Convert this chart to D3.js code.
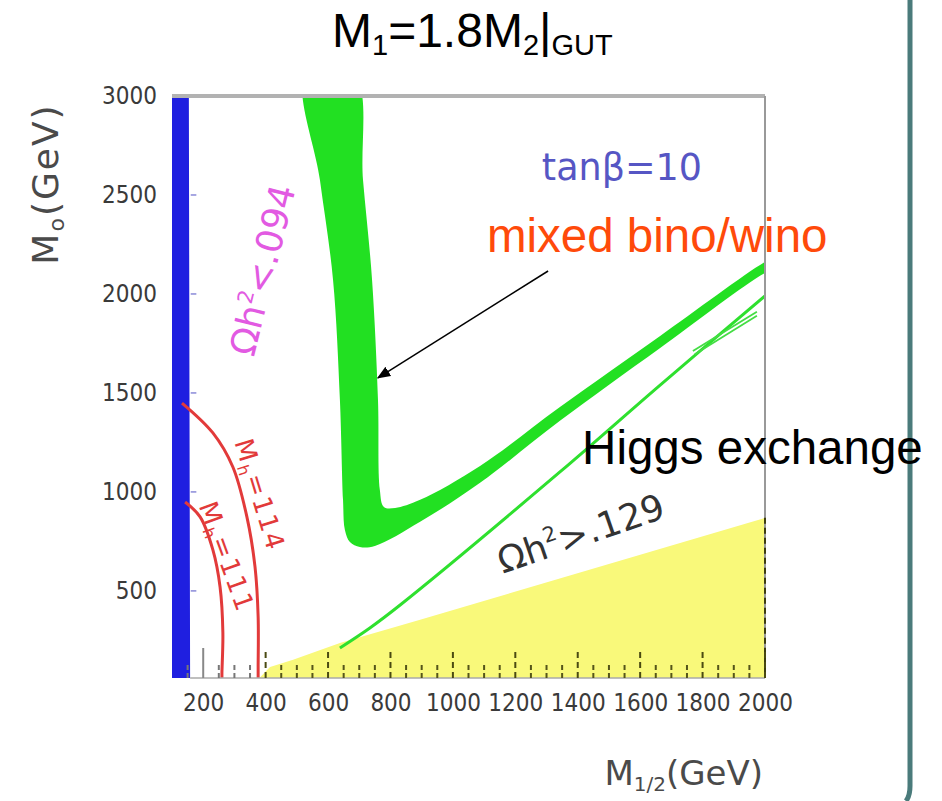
<!DOCTYPE html>
<html lang="en">
<head>
  <meta charset="UTF-8" />
  <title>M1=1.8M2 GUT</title>
  <script src="https://d3js.org/d3.v7.min.js"></script>
  <style>
    body { margin: 0; background: #fff; }
    svg { display: block; }
    .tick-lbl text { font-family: "DejaVu Sans Condensed", "DejaVu Sans", sans-serif; font-stretch: condensed; font-size: 24px; fill: #3a3a3a; }
    .note { font-family: "DejaVu Sans", sans-serif; }
    .big { font-family: "Liberation Sans", Arial, sans-serif; }
  </style>
</head>
<body>
  <div id="chart"></div>

  <script>
    // axis ticks
    const xTicks = [200, 400, 600, 800, 1000, 1200, 1400, 1600, 1800, 2000];
    const yTicks = [500, 1000, 1500, 2000, 2500, 3000];
    const xMinor = d3.range(150, 2000, 50).filter(v => v % 200 !== 0);

    // regions, [M1/2, M0] in GeV
    const blueBand = [[100, 3000], [154, 3000], [156, 1500], [158, 60], [100, 60]];
    const yellowRegion = [[380, 60], [414, 116], [488, 152], [638, 237], [895, 354], [2000, 869], [2000, 60]];
    const mixedBand = [
      [529, 3100], [574, 2576], [616, 2071], [638, 1464], [648, 959], [654, 808], [670, 747],
      [702, 722], [750, 727], [895, 849], [1087, 1046], [1343, 1359], [1664, 1727], [2000, 2106], [2040, 2130],
      [2040, 2190], [2000, 2162], [1664, 1788], [1343, 1429], [1087, 1131], [895, 960], [815, 919],
      [779, 924], [766, 1010], [760, 1464], [741, 2071], [712, 2576], [685, 3100]
    ];
    const higgsLine = [[638, 212], [734, 313], [831, 429], [1343, 1101], [1664, 1540], [2000, 1990]];
    const sliverA = [[1769, 1712], [1974, 1910]];
    const sliverB = [[1775, 1695], [1974, 1890]];
    const mh114 = [[132, 1449], [231, 1298], [295, 1126], [340, 874], [366, 621], [376, 369], [376, 116], [376, 60]];
    const mh111 = [[142, 949], [190, 874], [231, 707], [254, 520], [263, 288], [260, 86], [260, 60]];
    const arrowFrom = [1305, 2116], arrowTo = [760, 1576];

    const W = 942, H = 801;
    const svg = d3.select('#chart').append('svg').attr('width', W).attr('height', H);

    const x = d3.scaleLinear().domain([100, 2000]).range([172, 765]);
    const y = d3.scaleLinear().domain([60, 3000]).range([678, 96]);

    svg.append('defs').append('clipPath').attr('id', 'plot')
      .append('rect').attr('x', x(100)).attr('y', y(3000)).attr('width', x(2000) - x(100)).attr('height', y(60) - y(3000));
    svg.select('defs').append('marker')
      .attr('id', 'head').attr('viewBox', '0 0 10 10').attr('refX', 9).attr('refY', 5)
      .attr('markerWidth', 9).attr('markerHeight', 9).attr('orient', 'auto')
      .append('path').attr('d', 'M0,1 L10,5 L0,9 Z').attr('fill', '#000');

    const poly = d3.line().x(d => x(d[0])).y(d => y(d[1]));
    const smooth = d3.line().x(d => x(d[0])).y(d => y(d[1])).curve(d3.curveCatmullRom);

    const plot = svg.append('g').attr('clip-path', 'url(#plot)');

    plot.append('path').attr('d', poly(yellowRegion) + 'Z').attr('fill', '#f9f97a');
    plot.append('path').attr('d', poly(blueBand) + 'Z').attr('fill', '#1f1fe0');

    plot.append('path')
      .attr('d', d3.line().x(d => x(d[0])).y(d => y(d[1])).curve(d3.curveCatmullRomClosed)(mixedBand))
      .attr('fill', '#22e022');
    plot.append('path').attr('d', smooth(higgsLine)).attr('fill', 'none')
      .attr('stroke', '#2ee02e').attr('stroke-width', 3);
    [sliverA, sliverB].forEach(s => plot.append('path').attr('d', poly(s)).attr('fill', 'none')
      .attr('stroke', '#44dd44').attr('stroke-width', 1.8));

    [mh114, mh111].forEach(c => plot.append('path').attr('d', smooth(c)).attr('fill', 'none')
      .attr('stroke', '#e23a3a').attr('stroke-width', 3));

    // frame
    svg.append('line').attr('x1', x(100)).attr('x2', x(2000)).attr('y1', y(3000)).attr('y2', y(3000))
      .attr('stroke', '#b2b2b2').attr('stroke-width', 4);
    svg.append('line').attr('x1', x(2000)).attr('x2', x(2000)).attr('y1', y(3000)).attr('y2', y(60))
      .attr('stroke', '#999').attr('stroke-width', 2);
    svg.append('line').attr('x1', x(2000)).attr('x2', x(2000)).attr('y1', y(869)).attr('y2', y(60))
      .attr('stroke', '#3d3d10').attr('stroke-width', 2).attr('stroke-dasharray', '6,4');
    svg.append('line').attr('x1', x(158)).attr('x2', x(2000)).attr('y1', y(60)).attr('y2', y(60))
      .attr('stroke', '#aaa').attr('stroke-width', 1.5);

    // bottom ticks
    svg.selectAll('.xmaj').data(xTicks).join('line')
      .attr('x1', d => x(d)).attr('x2', d => x(d)).attr('y1', y(60)).attr('y2', y(60) - 30)
      .attr('stroke', d => d < 380 ? '#888' : '#4a4a12').attr('stroke-width', 2)
      .attr('stroke-dasharray', d => d < 380 ? null : '6,4');
    svg.selectAll('.xmin').data(xMinor).join('line')
      .attr('x1', d => x(d)).attr('x2', d => x(d)).attr('y1', y(60)).attr('y2', y(60) - 13)
      .attr('stroke', d => d < 380 ? '#777' : '#55551a').attr('stroke-width', 2)
      .attr('stroke-dasharray', '5,3');
    svg.selectAll('.ymaj').data(yTicks.slice(0, 5)).join('line')
      .attr('x1', x(160)).attr('x2', x(178)).attr('y1', d => y(d)).attr('y2', d => y(d))
      .attr('stroke', '#8a8ad8').attr('stroke-width', 1.5);

    // tick labels
    svg.append('g').attr('class', 'tick-lbl')
      .attr('transform', `translate(0,${y(60) + 15})`)
      .call(d3.axisBottom(x).tickValues(xTicks).tickSize(0).tickPadding(0).tickFormat(d3.format('d')))
      .call(g => g.select('.domain').remove())
      .selectAll('text').attr('dy', '0.75em');
    svg.append('g').attr('class', 'tick-lbl')
      .attr('transform', `translate(${x(100) - 15},0)`)
      .call(d3.axisLeft(y).tickValues(yTicks).tickSize(0).tickPadding(0).tickFormat(d3.format('d')))
      .call(g => g.select('.domain').remove());

    // axis titles
    const yl = svg.append('text').attr('class', 'note')
      .attr('transform', 'translate(58,184) rotate(-90)')
      .attr('text-anchor', 'middle').attr('font-size', 36).attr('fill', '#4a4a4a').attr('letter-spacing', 2);
    yl.append('tspan').text('M');
    yl.append('tspan').attr('font-size', 22).attr('dy', 6).text('o');
    yl.append('tspan').attr('dy', -6).text('(GeV)');

    const xl = svg.append('text').attr('class', 'note')
      .attr('x', 763).attr('y', 785).attr('text-anchor', 'end')
      .attr('font-size', 34).attr('fill', '#4a4a4a');
    xl.append('tspan').text('M');
    xl.append('tspan').attr('font-size', 20).attr('dy', 6).text('1/2');
    xl.append('tspan').attr('dy', -6).text('(GeV)');

    // title
    const t = svg.append('text').attr('class', 'big').attr('x', 332).attr('y', 47)
      .attr('font-size', 48).attr('fill', '#000');
    t.append('tspan').text('M');
    t.append('tspan').attr('font-size', 29).attr('dy', 8).text('1');
    t.append('tspan').attr('dy', -8).text('=1.8M');
    t.append('tspan').attr('font-size', 29).attr('dy', 8).text('2');
    t.append('tspan').attr('dy', -8).text('|');
    t.append('tspan').attr('font-size', 29).attr('dy', 8).text('GUT');

    // in-plot notes
    svg.append('text').attr('class', 'note')
      .attr('x', x(1285)).attr('y', y(2576))
      .attr('font-size', 36.5).attr('fill', '#5656c4').text('tanβ=10');

    const om1 = svg.append('text').attr('class', 'note')
      .attr('transform', `translate(${x(390)},${y(2121)}) rotate(-76)`)
      .attr('text-anchor', 'middle').attr('dy', '0.35em')
      .attr('font-size', 36).attr('fill', '#e25ae2');
    om1.append('tspan').text('Ωh');
    om1.append('tspan').attr('font-size', 21).attr('dy', -15).text('2');
    om1.append('tspan').attr('dy', 15).text('<.094');

    const om2 = svg.append('text').attr('class', 'note')
      .attr('transform', `translate(${x(1410)},${y(790)}) rotate(-19)`)
      .attr('text-anchor', 'middle').attr('dy', '0.35em')
      .attr('font-size', 36).attr('fill', '#333');
    om2.append('tspan').text('Ωh');
    om2.append('tspan').attr('font-size', 21).attr('dy', -15).text('2');
    om2.append('tspan').attr('dy', 15).text('>.129');

    [['114', 382, 985, 73], ['111', 276, 672, 70]].forEach(([v, mx, my, a]) => {
      const tx = svg.append('text').attr('class', 'note')
        .attr('transform', `translate(${x(mx)},${y(my)}) rotate(${a})`)
        .attr('text-anchor', 'middle').attr('dy', '0.35em')
        .attr('font-size', 26).attr('fill', '#e23a3a').attr('letter-spacing', 2);
      tx.append('tspan').text('M');
      tx.append('tspan').attr('font-size', 16).attr('dy', 5).text('h');
      tx.append('tspan').attr('dy', -5).text('=' + v);
    });

    svg.append('line')
      .attr('x1', x(arrowFrom[0])).attr('y1', y(arrowFrom[1]))
      .attr('x2', x(arrowTo[0])).attr('y2', y(arrowTo[1]))
      .attr('stroke', '#000').attr('stroke-width', 1.5).attr('marker-end', 'url(#head)');

    svg.append('text').attr('class', 'big').attr('x', x(1109)).attr('y', y(2212))
      .attr('font-size', 47.5).attr('fill', '#ff4a0a').text('mixed bino/wino');

    // slide border
    svg.append('path').attr('d', 'M910,0 L910,786 Q910,796 906,801')
      .attr('fill', 'none').attr('stroke', '#4a7b7b').attr('stroke-width', 5);

    svg.append('text').attr('class', 'big').attr('x', x(1414)).attr('y', y(1141))
      .attr('font-size', 47.5).attr('fill', '#000').text('Higgs exchange');
  </script>
</body>
</html>
